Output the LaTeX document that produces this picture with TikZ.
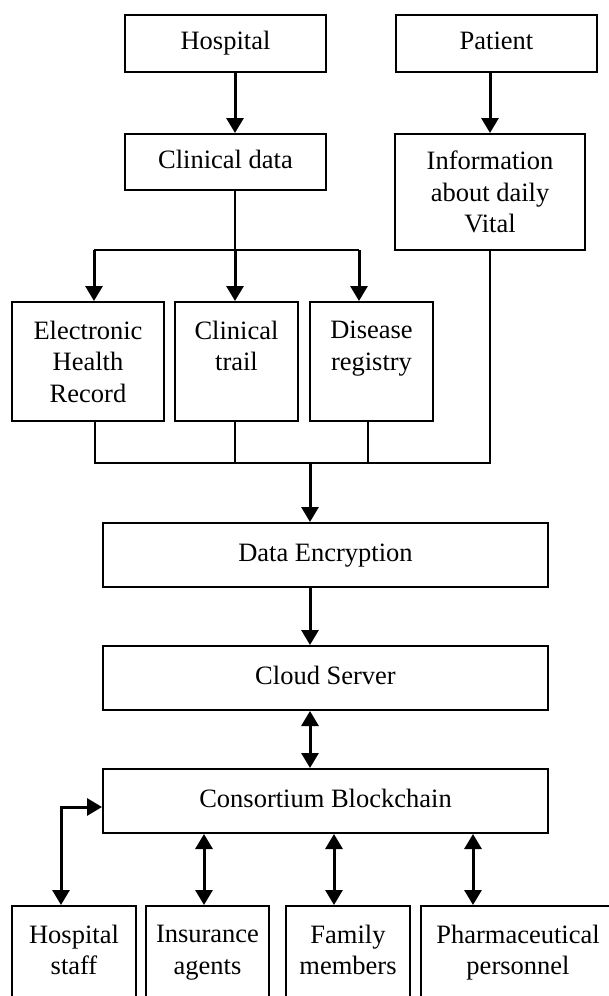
\documentclass[tikz,border=0pt]{standalone}
\usepackage{fontspec}
\setmainfont{Liberation Serif}
\usetikzlibrary{arrows.meta}
\begin{document}
\begin{tikzpicture}[x=1pt,y=-1pt,
  box/.style={draw, line width=2pt, inner sep=0pt, align=center, anchor=north west,
              font=\fontsize{26.5}{31.5}\selectfont},
  oneline/.style={text height=18pt, text depth=6pt},
  arr/.style={line width=3pt, -{Triangle[width=17pt,length=15pt]}},
  darr/.style={line width=3pt, {Triangle[width=17pt,length=15pt]}-{Triangle[width=17pt,length=15pt]}},
  ln/.style={line width=2.4pt}]
\useasboundingbox (0,0) rectangle (609,996);

% top row
\node[box, oneline, minimum width=201pt, minimum height=57pt] (hosp) at (124,14) {Hospital};
\node[box, oneline, minimum width=201pt, minimum height=57pt] (pat) at (395,14) {Patient};
\node[box, oneline, minimum width=201pt, minimum height=56pt] (clin) at (124,133) {Clinical data};
\node[box, minimum width=190pt, minimum height=116pt] (info) at (394,133) {Information\\about daily\\Vital};

% second row
\node[box, minimum width=152pt, minimum height=119pt] (ehr) at (11,301) {Electronic\\Health\\Record};
\node[box, minimum width=123pt, minimum height=119pt] (ct) at (174,301) {Clinical\\trail\\~};
\node[box, minimum width=123pt, minimum height=119pt] (dr) at (309,301) {Disease\\registry\\~};

% central column
\node[box, oneline, minimum width=445pt, minimum height=64pt] (enc) at (102,522) {Data Encryption};
\node[box, oneline, minimum width=445pt, minimum height=64pt] (cloud) at (102,645) {Cloud Server};
\node[box, oneline, minimum width=445pt, minimum height=64pt] (bc) at (102,768) {Consortium Blockchain};

% bottom row
\node[box, minimum width=124pt, minimum height=119pt] (hs) at (11,905) {Hospital\\staff\\~};
\node[box, minimum width=123pt, minimum height=119pt] (ia) at (145,905) {Insurance\\agents\\~};
\node[box, minimum width=124pt, minimum height=119pt] (fm) at (285,905) {Family\\members\\~};
\node[box, minimum width=194pt, minimum height=119pt] (pp) at (420,905) {Pharmaceutical\\personnel\\~};

% connector coordinates
\coordinate (xh) at (235,0);
\coordinate (xp) at (490,0);
\coordinate (bus1) at (0,250);
\coordinate (xe) at (94,0);
\coordinate (xd) at (359,0);
\coordinate (bus2) at (0,463);
\coordinate (xe2) at (95,0);
\coordinate (xc2) at (235,0);
\coordinate (xd2) at (368,0);
\coordinate (xm) at (310,0);
\coordinate (elb) at (61,807);
\coordinate (xia) at (204,0);
\coordinate (xfm) at (334,0);
\coordinate (xpp) at (473,0);

% top arrows
\draw[arr] (hosp.south -| xh) -- (clin.north -| xh);
\draw[arr] (pat.south -| xp) -- (info.north -| xp);

% clinical data distribution
\draw[ln] (clin.south -| xh) -- (bus1 -| xh);
\draw[ln] (bus1 -| xe) -- (bus1 -| xd);
\draw[arr] (bus1 -| xe) -- (ehr.north -| xe);
\draw[arr] (bus1 -| xh) -- (ct.north -| xh);
\draw[arr] (bus1 -| xd) -- (dr.north -| xd);

% collection bus
\draw[ln] (ehr.south -| xe2) -- (bus2 -| xe2) -- (bus2 -| xp) -- (info.south -| xp);
\draw[ln] (ct.south -| xc2) -- (bus2 -| xc2);
\draw[ln] (dr.south -| xd2) -- (bus2 -| xd2);
\draw[arr] (bus2 -| xm) -- (enc.north -| xm);

% central column
\draw[arr] (enc.south -| xm) -- (cloud.north -| xm);
\draw[darr] (cloud.south -| xm) -- (bc.north -| xm);

% bottom connections
\draw[darr] (hs.north -| elb) -- (elb) -- (elb -| bc.west);
\draw[darr] (bc.south -| xia) -- (ia.north -| xia);
\draw[darr] (bc.south -| xfm) -- (fm.north -| xfm);
\draw[darr] (bc.south -| xpp) -- (pp.north -| xpp);
\end{tikzpicture}
\end{document}
